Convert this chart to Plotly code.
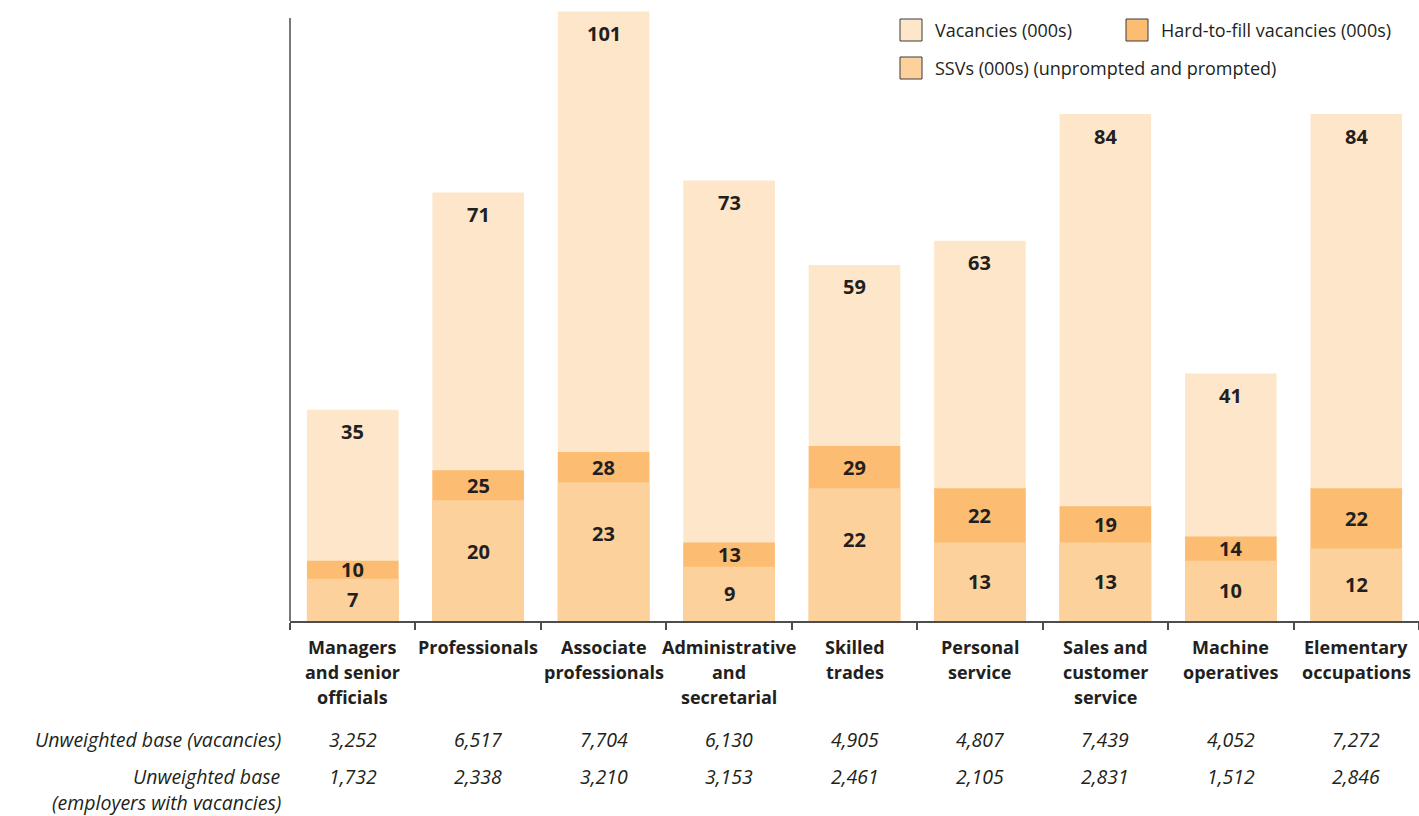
import plotly.graph_objects as go

categories = ["Managers<br>and senior<br>officials", "Professionals", "Associate<br>professionals",
              "Administrative<br>and<br>secretarial", "Skilled<br>trades", "Personal<br>service",
              "Sales and<br>customer<br>service", "Machine<br>operatives", "Elementary<br>occupations"]
vacancies = [35, 71, 101, 73, 59, 63, 84, 41, 84]
hard_to_fill = [10, 25, 28, 13, 29, 22, 19, 14, 22]
ssvs = [7, 20, 23, 9, 22, 13, 13, 10, 12]
base_vacancies = ["3,252", "6,517", "7,704", "6,130", "4,905", "4,807", "7,439", "4,052", "7,272"]
base_employers = ["1,732", "2,338", "3,210", "3,153", "2,461", "2,105", "2,831", "1,512", "2,846"]

series_names = ["Vacancies (000s)", "Hard-to-fill vacancies (000s)", "SSVs (000s) (unprompted and prompted)"]
colors = ["#FEE6CA", "#FCBC72", "#FCD19C"]

W, H = 1419, 816
PLOT_TOP, PLOT_BOTTOM, PLOT_LEFT = 0, 621, 290
PX_PER_UNIT = 6.035
ymax = (PLOT_BOTTOM - PLOT_TOP) / PX_PER_UNIT

TXT = "#231F20"
FONT = "Open Sans"
VAL_SIZE = 20
CAT_SIZE = 18
BASE_SIZE = 19.5
LEG_SIZE = 18

x = list(range(len(categories)))
fig = go.Figure()
for vals, name, col in zip([vacancies, hard_to_fill, ssvs], series_names, colors):
    fig.add_trace(go.Bar(x=x, y=vals, name=name, marker=dict(color=col, line=dict(width=0)),
                         width=0.73, showlegend=False, hoverinfo="skip"))

ann = []
# value labels
for i in x:
    ann.append(dict(x=i, y=vacancies[i], xref="x", yref="y", text=f"<b>{vacancies[i]}</b>",
                    showarrow=False, yshift=-22, yanchor="middle",
                    font=dict(family=FONT, size=VAL_SIZE, color=TXT)))
    ann.append(dict(x=i, y=(hard_to_fill[i] + ssvs[i]) / 2, xref="x", yref="y",
                    text=f"<b>{hard_to_fill[i]}</b>", showarrow=False, yanchor="middle",
                    font=dict(family=FONT, size=VAL_SIZE, color=TXT)))
    ann.append(dict(x=i, y=max(ssvs[i] / 2, ssvs[i] - 8.5), xref="x", yref="y",
                    text=f"<b>{ssvs[i]}</b>", showarrow=False, yanchor="middle",
                    font=dict(family=FONT, size=VAL_SIZE, color=TXT)))

# category labels (line by line)
for i, cat in enumerate(categories):
    for j, line in enumerate(cat.split("<br>")):
        ann.append(dict(x=i, y=0, xref="x", yref="paper", text=f"<b>{line}</b>", showarrow=False,
                        yanchor="middle", yshift=-(647 + 25 * j - PLOT_BOTTOM),
                        font=dict(family=FONT, size=CAT_SIZE, color=TXT)))
    ann.append(dict(x=i, y=0, xref="x", yref="paper", text=f"<i>{base_vacancies[i]}</i>",
                    showarrow=False, yanchor="middle", yshift=-(739 - PLOT_BOTTOM),
                    font=dict(family=FONT, size=BASE_SIZE, color=TXT)))
    ann.append(dict(x=i, y=0, xref="x", yref="paper", text=f"<i>{base_employers[i]}</i>",
                    showarrow=False, yanchor="middle", yshift=-(776 - PLOT_BOTTOM),
                    font=dict(family=FONT, size=BASE_SIZE, color=TXT)))

row_labels = [("Unweighted base (vacancies)", 739), ("Unweighted base", 776),
              ("(employers with vacancies)", 802)]
for txt, py in row_labels:
    ann.append(dict(x=0, y=0, xref="paper", yref="paper", text=f"<i>{txt}</i>", showarrow=False,
                    xanchor="right", yanchor="middle", xshift=-7, yshift=-(py - PLOT_BOTTOM),
                    font=dict(family=FONT, size=BASE_SIZE, color=TXT)))

# custom legend
plot_w = W - PLOT_LEFT
def px_to_paper_x(px):
    return (px - PLOT_LEFT) / plot_w
def py_to_paper_y(py):
    return (PLOT_BOTTOM - py) / (PLOT_BOTTOM - PLOT_TOP)

shapes = []
legend_pos = [(900, 30), (1126, 30), (900, 68)]
for (lx, ly), name, col in zip(legend_pos, series_names, colors):
    shapes.append(dict(type="rect", xref="paper", yref="paper",
                       x0=px_to_paper_x(lx), x1=px_to_paper_x(lx + 22),
                       y0=py_to_paper_y(ly + 11), y1=py_to_paper_y(ly - 11),
                       fillcolor=col, line=dict(color="#3a3a3a", width=1)))
    ann.append(dict(x=px_to_paper_x(lx + 33), y=py_to_paper_y(ly), xref="paper", yref="paper",
                    text=name, showarrow=False, xanchor="left", yanchor="middle",
                    font=dict(family=FONT, size=LEG_SIZE, color=TXT)))

# y axis line
shapes.append(dict(type="line", xref="paper", yref="paper", x0=0, x1=0,
                   y0=0, y1=py_to_paper_y(18), line=dict(color="#4d4d4d", width=1.5)))

fig.update_layout(
    width=W, height=H, barmode="overlay", bargap=0.27,
    margin=dict(l=PLOT_LEFT, r=0, t=PLOT_TOP, b=H - PLOT_BOTTOM),
    plot_bgcolor="white", paper_bgcolor="white",
    annotations=ann, shapes=shapes,
    xaxis=dict(range=[-0.5, len(categories) - 0.5], tickvals=[i - 0.5 for i in range(len(categories) + 1)],
               ticktext=[""] * (len(categories) + 1), ticks="outside", ticklen=7, tickwidth=1.5,
               tickcolor="#4d4d4d", showline=True, linecolor="#4d4d4d", linewidth=1.5,
               showgrid=False, zeroline=False, fixedrange=True),
    yaxis=dict(range=[0, ymax], visible=False, showgrid=False, zeroline=False, fixedrange=True),
    font=dict(family=FONT, color=TXT),
)

fig.write_html("out.html")
